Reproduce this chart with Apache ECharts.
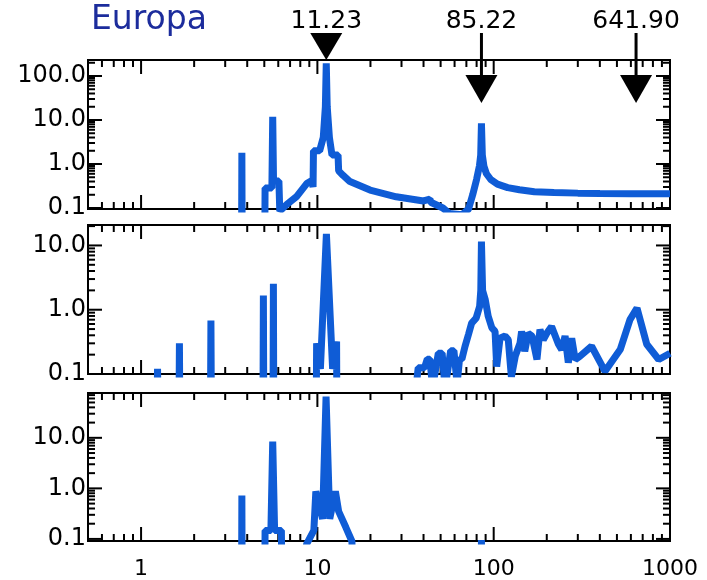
<!DOCTYPE html>
<html><head><meta charset="utf-8">
<script src="https://cdn.jsdelivr.net/npm/echarts@6/dist/echarts.min.js"></script>
<style>html,body{margin:0;padding:0;background:#fff}#c{width:707px;height:580px}</style>
</head><body><div id="c"></div><script>
// ---------------- data ----------------
const titleText = 'Europa';
const markerPeriods = [11.23, 85.22, 641.90];
const markerLabels = ['11.23', '85.22', '641.90'];
const markerStem = [false, true, true];

const xRange = [0.5, 1000];
const yRanges = [[0.095, 231], [0.1, 20.8], [0.091, 77]];

const xMajorTickValues = [1, 10, 100];
const xMinorTickValues = [0.6, 0.7, 0.8, 0.9, 2, 3, 4, 5, 6, 7, 8, 9, 20, 30, 40, 50, 60, 70, 80, 90, 200, 300, 400, 500, 600, 700, 800, 900];
const yMajorTickValues = [0.1, 1, 10, 100];
const yMinorTickValues = [0.2, 0.3, 0.4, 0.5, 0.6, 0.7, 0.8, 0.9, 2, 3, 4, 5, 6, 7, 8, 9, 20, 30, 40, 50, 60, 70, 80, 90, 200, 300, 400, 500, 600, 700, 800, 900];

// panel 1 (top)
const p1Period = [3.70, 3.73, 3.76, 5.00, 5.05, 5.30, 5.52, 5.58, 5.64, 6.05, 6.12, 6.70, 7.60, 8.70, 9.30, 9.45, 9.50, 10.30, 10.80, 11.10, 11.23, 11.37, 11.70, 12.10, 13.10, 13.20, 14.00, 15.30, 19.90, 28.0, 40.0, 41.0, 43.5, 44.0, 51.5, 56.0, 66.0, 72.0, 76.0, 80.0, 83.0, 84.4, 85.22, 86.2, 88.0, 91.0, 96.0, 105, 120, 140, 170, 220, 300, 400, 600, 1000];
const p1Power = [1e-4, 1.8, 1e-4, 1e-4, 0.285, 0.285, 0.285, 11.9, 0.41, 0.41, 0.085, 0.12, 0.18, 0.36, 0.42, 0.30, 2.0, 2.0, 4.0, 20, 195, 20, 4.0, 1.6, 1.6, 0.70, 0.55, 0.40, 0.256, 0.18, 0.145, 0.16, 0.16, 0.135, 0.10, 0.075, 0.07, 0.095, 0.20, 0.45, 0.90, 1.6, 8.4, 1.6, 0.9, 0.6, 0.45, 0.35, 0.29, 0.26, 0.235, 0.225, 0.218, 0.215, 0.212, 0.21];

// panel 2 (middle)
const p2Period = [1.20, 1.24, 1.28, 1.62, 1.65, 1.68, 2.45, 2.49, 2.53, 4.88, 4.94, 5.00, 5.57, 5.63, 5.69, 9.75, 9.90, 10.40, 11.25, 12.20, 12.85, 13.00, 36.0, 37.3, 40.5, 42.0, 43.5, 45.0, 48.5, 51.0, 53.0, 57.0, 59.5, 62.0, 64.0, 66.0, 68.8, 71.9, 75.0, 79.5, 83.2, 84.5, 85.22, 86.5, 89.6, 93.1, 97.7, 101.8, 104, 108.6, 116, 121, 126, 132.6, 141, 144, 150, 157, 165, 176, 183, 191, 200, 213, 233, 243, 254, 265, 277, 290, 309, 359, 428, 522, 593, 650, 738, 863, 1000];
const p2Power = [1e-4, 0.12, 1e-4, 1e-4, 0.30, 1e-4, 1e-4, 0.68, 1e-4, 1e-4, 1.67, 1e-4, 1e-4, 2.53, 1e-4, 1e-4, 0.30, 0.12, 15.1, 0.12, 0.32, 1e-4, 0.05, 0.125, 0.125, 0.17, 0.17, 0.06, 0.21, 0.21, 0.06, 0.23, 0.23, 0.07, 0.17, 0.17, 0.27, 0.41, 0.62, 0.74, 1.12, 2.0, 11.5, 2.0, 1.43, 0.79, 0.52, 0.46, 0.13, 0.36, 0.39, 0.34, 0.09, 0.19, 0.30, 0.46, 0.226, 0.43, 0.39, 0.168, 0.49, 0.34, 0.43, 0.55, 0.29, 0.24, 0.39, 0.15, 0.36, 0.168, 0.19, 0.27, 0.11, 0.24, 0.70, 1.06, 0.29, 0.168, 0.21];

// panel 3 (bottom)
const p3Period = [3.70, 3.73, 3.76, 5.00, 5.05, 5.45, 5.58, 5.72, 6.25, 6.35, 8.50, 8.70, 9.55, 9.80, 10.05, 10.70, 11.20, 11.75, 12.65, 12.95, 13.20, 14.50, 15.70, 16.50, 84.5, 85.22, 86.0];
const p3Power = [1e-4, 0.72, 1e-4, 1e-4, 0.147, 0.147, 8.4, 0.147, 0.147, 1e-4, 0.05, 0.08, 0.147, 0.87, 0.87, 0.25, 65, 0.25, 0.87, 0.87, 0.35, 0.17, 0.09, 1e-4, 1e-4, 0.095, 1e-4];

// ---------------- chart ----------------
const FONT = '"DejaVu Sans", sans-serif';
const LINE_COLOR = '#0f5cd6';
const panels = [[p1Period, p1Power], [p2Period, p2Power], [p3Period, p3Power]];
const gridTops = [60, 225, 393];
const gridH = 149;

function zip(a, b) { return a.map((v, i) => [v, b[i]]); }
function isDecade(v) { const e = Math.log10(v); return Math.abs(e - Math.round(e)) < 0.01; }

function tickData(pi) {
  const [ymin, ymax] = yRanges[pi];
  const d = [];
  xMinorTickValues.forEach(v => d.push([v, 1, 0]));
  xMajorTickValues.forEach(v => d.push([v, 1, 1]));
  yMinorTickValues.filter(v => v > ymin && v < ymax).forEach(v => d.push([1, v, 2]));
  yMajorTickValues.filter(v => v > ymin * 1.001 && v < ymax).forEach(v => d.push([1, v, 3]));
  return d;
}

function renderTick(params, api) {
  const cs = params.coordSys;
  const kind = api.value(2);
  const p = api.coord([api.value(0), api.value(1)]);
  const len = (kind % 2 === 1) ? 14 : 7;
  const style = { stroke: '#000', lineWidth: 2 };
  if (kind < 2) {
    return { type: 'group', children: [
      { type: 'line', shape: { x1: p[0], y1: cs.y + cs.height, x2: p[0], y2: cs.y + cs.height - len }, style },
      { type: 'line', shape: { x1: p[0], y1: cs.y, x2: p[0], y2: cs.y + len }, style }
    ]};
  }
  return { type: 'group', children: [
    { type: 'line', shape: { x1: cs.x, y1: p[1], x2: cs.x + len, y2: p[1] }, style },
    { type: 'line', shape: { x1: cs.x + cs.width, y1: p[1], x2: cs.x + cs.width - len, y2: p[1] }, style }
  ]};
}

const grid = [], xAxis = [], yAxis = [], series = [];
panels.forEach((pd, i) => {
  grid.push({ left: 88, right: 37, top: gridTops[i], height: gridH, show: true, borderColor: '#000', borderWidth: 2, backgroundColor: 'transparent' });
  xAxis.push({
    type: 'log', logBase: 10, gridIndex: i, min: xRange[0], max: xRange[1],
    axisLine: { show: false }, axisTick: { show: false }, splitLine: { show: false }, minorTick: { show: false },
    axisLabel: {
      show: i === 2, fontSize: 22, fontFamily: FONT, color: '#000', margin: 17,
      formatter: v => isDecade(v) ? String(Math.round(Math.pow(10, Math.round(Math.log10(v))))) : ''
    }
  });
  yAxis.push({
    type: 'log', logBase: 10, gridIndex: i, min: yRanges[i][0], max: yRanges[i][1],
    axisLine: { show: false }, axisTick: { show: false }, splitLine: { show: false }, minorTick: { show: false },
    axisLabel: {
      show: true, fontSize: 24, fontFamily: FONT, color: '#000', margin: 2,
      formatter: v => isDecade(v) ? Math.pow(10, Math.round(Math.log10(v))).toFixed(1) : ''
    }
  });
  series.push({
    type: 'custom', xAxisIndex: i, yAxisIndex: i, renderItem: renderTick,
    dimensions: ['x', 'y', 'k'], encode: { x: 0, y: 1 }, data: tickData(i), z: 1, silent: true, animation: false
  });
  series.push({
    type: 'line', xAxisIndex: i, yAxisIndex: i, data: zip(pd[0], pd[1]),
    showSymbol: false, symbol: 'none', clip: true, z: 3, animation: false,
    lineStyle: { color: LINE_COLOR, width: 7, join: 'bevel', cap: 'butt' }
  });
});

const chart = echarts.init(document.getElementById('c'), null, { renderer: 'canvas' });
chart.setOption({
  animation: false,
  backgroundColor: '#fff',
  title: { text: titleText, left: 86, top: -1, textStyle: { color: '#1c2c9c', fontSize: 33, fontWeight: 'normal', fontFamily: FONT } },
  grid, xAxis, yAxis, series
});

const g = [];
markerPeriods.forEach((v, i) => {
  const px = chart.convertToPixel({ xAxisIndex: 0, yAxisIndex: 0 }, [v, 1])[0];
  g.push({ type: 'text', x: px, y: 21, z: 10, style: { text: markerLabels[i], fontSize: 25, fontFamily: FONT, fill: '#000', align: 'center', verticalAlign: 'middle' } });
  if (markerStem[i]) {
    g.push({ type: 'line', z: 10, shape: { x1: px, y1: 33, x2: px, y2: 78 }, style: { stroke: '#000', lineWidth: 3 } });
    g.push({ type: 'polygon', z: 10, shape: { points: [[px - 16, 75], [px + 16, 75], [px, 103]] }, style: { fill: '#000' } });
  } else {
    g.push({ type: 'polygon', z: 10, shape: { points: [[px - 16, 33], [px + 16, 33], [px, 60]] }, style: { fill: '#000' } });
  }
});
chart.setOption({ graphic: g });
</script></body></html>
